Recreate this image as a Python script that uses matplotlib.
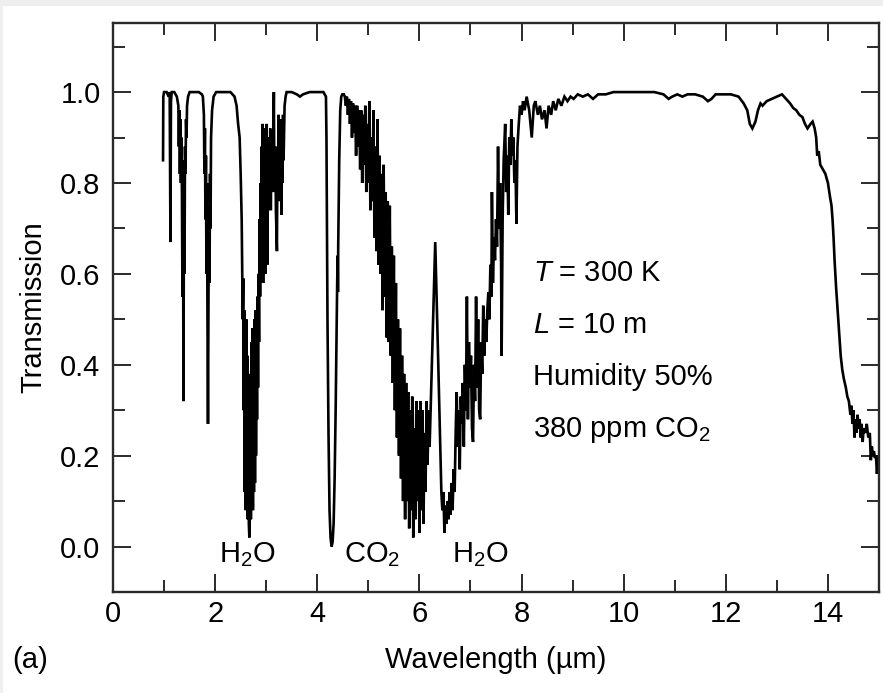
import numpy as np
import matplotlib
matplotlib.use('Agg')
import matplotlib.pyplot as plt
from matplotlib.patches import Rectangle
from matplotlib.ticker import MultipleLocator, FormatStrFormatter

plt.rcParams['font.family'] = ['Liberation Sans', 'DejaVu Sans']
plt.rcParams['mathtext.fontset'] = 'custom'
plt.rcParams['mathtext.rm'] = 'Liberation Sans'
plt.rcParams['mathtext.it'] = 'Liberation Sans:italic'

# transmission spectrum, (wavelength in um, transmission), one list per region
near_ir = [
    (0.98, 0.85), (0.985, 0.99), (1.00, 1.00), (1.05, 1.00), (1.09, 0.99), (1.11, 1.00),
    (1.125, 0.67), (1.135, 0.98), (1.15, 1.00), (1.20, 1.00), (1.25, 0.99), (1.28, 0.97),
    (1.29, 0.88), (1.30, 0.96), (1.31, 0.82), (1.32, 0.94), (1.33, 0.80), (1.34, 0.90),
    (1.35, 0.78), (1.36, 0.55), (1.37, 0.85), (1.38, 0.32), (1.39, 0.80), (1.40, 0.60),
    (1.41, 0.88), (1.42, 0.82), (1.43, 0.94), (1.44, 0.90), (1.45, 0.97), (1.47, 0.99),
    (1.50, 1.00), (1.58, 1.00), (1.68, 1.00), (1.74, 0.995), (1.76, 0.99), (1.78, 0.95),
    (1.79, 0.82), (1.80, 0.92), (1.81, 0.72), (1.82, 0.86), (1.83, 0.60), (1.84, 0.80),
    (1.85, 0.50), (1.86, 0.27), (1.87, 0.55), (1.88, 0.75), (1.89, 0.58), (1.90, 0.82),
    (1.91, 0.70), (1.92, 0.90), (1.94, 0.96), (1.97, 0.99), (2.02, 1.00), (2.15, 1.00),
    (2.30, 1.00), (2.38, 0.99),
]

h2o_band_27 = [
    (2.42, 0.97), (2.45, 0.93), (2.48, 0.90), (2.50, 0.82), (2.52, 0.72), (2.53, 0.62),
    (2.54, 0.50), (2.55, 0.59), (2.56, 0.30), (2.57, 0.52), (2.58, 0.12), (2.59, 0.45),
    (2.60, 0.08), (2.61, 0.50), (2.62, 0.10), (2.63, 0.42), (2.64, 0.06), (2.65, 0.38),
    (2.66, 0.05), (2.67, 0.02), (2.68, 0.07), (2.69, 0.35), (2.70, 0.06), (2.71, 0.45),
    (2.72, 0.10), (2.73, 0.48), (2.74, 0.08), (2.75, 0.40), (2.76, 0.12), (2.77, 0.50),
    (2.78, 0.14), (2.79, 0.52), (2.80, 0.20), (2.81, 0.45), (2.82, 0.28), (2.83, 0.55),
    (2.84, 0.35), (2.85, 0.60), (2.86, 0.45), (2.87, 0.72), (2.88, 0.55), (2.89, 0.80),
    (2.90, 0.60), (2.91, 0.88), (2.92, 0.62), (2.93, 0.93), (2.94, 0.58), (2.95, 0.90),
    (2.96, 0.65), (2.97, 0.92), (2.98, 0.60), (2.99, 0.88), (3.00, 0.70), (3.01, 0.93),
    (3.02, 0.62), (3.03, 0.90), (3.04, 0.74), (3.06, 0.89), (3.07, 0.76), (3.08, 0.92),
    (3.09, 0.74), (3.10, 0.86), (3.11, 0.78), (3.12, 0.90), (3.13, 0.80), (3.15, 1.00),
    (3.16, 0.78), (3.18, 0.88), (3.19, 0.74), (3.21, 0.65), (3.22, 0.86), (3.23, 0.78),
    (3.24, 0.95), (3.25, 0.80), (3.26, 0.92), (3.27, 0.76), (3.28, 0.94), (3.29, 0.82),
    (3.30, 0.73), (3.31, 0.90), (3.32, 0.80), (3.33, 0.95), (3.34, 0.85), (3.36, 0.97),
    (3.38, 0.99), (3.40, 1.00), (3.50, 1.00), (3.60, 0.995), (3.66, 0.99), (3.72, 0.995),
    (3.85, 1.00), (4.00, 1.00), (4.12, 1.00), (4.17, 0.99),
]

co2_band_43 = [
    (4.18, 0.90), (4.19, 0.70), (4.20, 0.50), (4.22, 0.25), (4.24, 0.08), (4.26, 0.02),
    (4.28, 0.00), (4.30, 0.01), (4.32, 0.05), (4.34, 0.15), (4.36, 0.30), (4.38, 0.48),
    (4.39, 0.58), (4.40, 0.64), (4.405, 0.56), (4.41, 0.66), (4.43, 0.85), (4.45, 0.96),
    (4.47, 0.99), (4.49, 0.995),
]

h2o_band_60 = [
    (4.52, 0.995), (4.54, 0.99), (4.56, 0.97), (4.58, 0.99), (4.60, 0.95), (4.62, 0.985),
    (4.64, 0.93), (4.66, 0.98), (4.68, 0.90), (4.70, 0.975), (4.72, 0.91), (4.74, 0.97),
    (4.76, 0.86), (4.78, 0.97), (4.80, 0.88), (4.82, 0.96), (4.84, 0.83), (4.86, 0.96),
    (4.88, 0.80), (4.90, 0.95), (4.92, 0.84), (4.94, 0.97), (4.96, 0.78), (4.98, 0.93),
    (5.00, 0.80), (5.02, 0.98), (5.04, 0.74), (5.06, 0.90), (5.08, 0.76), (5.10, 0.96),
    (5.12, 0.68), (5.14, 0.88), (5.16, 0.65), (5.18, 0.94), (5.20, 0.62), (5.22, 0.86),
    (5.24, 0.60), (5.26, 0.82), (5.28, 0.52), (5.30, 0.84), (5.32, 0.55), (5.34, 0.78),
    (5.36, 0.46), (5.38, 0.76), (5.40, 0.45), (5.42, 0.75), (5.44, 0.42), (5.46, 0.66),
    (5.48, 0.36), (5.50, 0.64), (5.52, 0.30), (5.54, 0.58), (5.56, 0.24), (5.58, 0.50),
    (5.60, 0.20), (5.62, 0.48), (5.64, 0.15), (5.66, 0.42), (5.68, 0.10), (5.70, 0.38),
    (5.72, 0.06), (5.74, 0.36), (5.76, 0.10), (5.78, 0.34), (5.80, 0.04), (5.82, 0.30),
    (5.84, 0.08), (5.86, 0.33), (5.88, 0.02), (5.90, 0.26), (5.92, 0.06), (5.94, 0.32),
    (5.96, 0.10), (5.98, 0.30), (6.00, 0.03), (6.02, 0.32), (6.04, 0.08), (6.06, 0.30),
    (6.08, 0.05), (6.10, 0.25), (6.12, 0.12), (6.14, 0.32), (6.16, 0.18), (6.18, 0.30),
    (6.20, 0.22), (6.31, 0.67),
    (6.37, 0.40), (6.43, 0.12), (6.45, 0.08), (6.47, 0.12), (6.49, 0.03), (6.51, 0.09),
    (6.53, 0.05), (6.55, 0.10), (6.57, 0.06), (6.59, 0.12), (6.61, 0.07), (6.63, 0.14),
    (6.65, 0.08), (6.67, 0.17), (6.69, 0.12), (6.71, 0.25), (6.73, 0.34), (6.75, 0.22),
    (6.77, 0.30), (6.79, 0.17), (6.81, 0.33), (6.83, 0.27), (6.85, 0.36), (6.87, 0.22),
    (6.89, 0.40), (6.91, 0.30), (6.93, 0.55), (6.95, 0.28), (6.97, 0.45), (6.99, 0.35),
    (7.01, 0.42), (7.03, 0.26), (7.05, 0.23), (7.07, 0.40), (7.09, 0.32), (7.11, 0.55),
    (7.13, 0.35), (7.15, 0.50), (7.17, 0.30), (7.19, 0.28), (7.21, 0.45), (7.23, 0.38),
    (7.25, 0.53), (7.27, 0.42), (7.29, 0.50), (7.31, 0.45), (7.33, 0.52), (7.35, 0.56),
    (7.37, 0.50), (7.39, 0.62), (7.41, 0.55), (7.42, 0.78), (7.44, 0.58), (7.46, 0.68),
    (7.48, 0.63), (7.50, 0.72), (7.52, 0.66), (7.54, 0.88), (7.56, 0.70), (7.58, 0.80),
    (7.60, 0.62), (7.61, 0.42), (7.63, 0.72), (7.65, 0.85), (7.68, 0.93), (7.70, 0.78),
    (7.72, 0.86), (7.74, 0.73), (7.76, 0.90), (7.78, 0.84), (7.80, 0.94), (7.82, 0.86),
    (7.84, 0.90), (7.86, 0.80), (7.88, 0.85), (7.90, 0.71), (7.92, 0.88), (7.94, 0.92),
    (7.97, 0.97), (8.00, 0.95), (8.03, 0.98), (8.06, 0.96),
]

ir_window = [
    (8.10, 0.99), (8.15, 0.96), (8.20, 0.90), (8.24, 0.97), (8.27, 0.98), (8.32, 0.95),
    (8.36, 0.97), (8.40, 0.94), (8.45, 0.96), (8.49, 0.92), (8.53, 0.97), (8.58, 0.95),
    (8.62, 0.98), (8.67, 0.96), (8.72, 0.985), (8.78, 0.97), (8.84, 0.99), (8.90, 0.98),
    (8.96, 0.99), (9.02, 0.985), (9.10, 0.995), (9.20, 0.99), (9.30, 0.995), (9.40, 0.985),
    (9.50, 0.995), (9.65, 0.995), (9.80, 1.00), (10.00, 1.00), (10.30, 1.00), (10.60, 1.00),
    (10.78, 0.995), (10.88, 0.985), (10.95, 0.99), (11.05, 0.995), (11.15, 0.99), (11.25, 0.995),
    (11.40, 0.995), (11.55, 0.99), (11.65, 0.98), (11.72, 0.985), (11.80, 0.995), (11.95, 0.995),
    (12.10, 0.995), (12.25, 0.99), (12.35, 0.975), (12.42, 0.96), (12.47, 0.93), (12.52, 0.92),
    (12.58, 0.935), (12.63, 0.96), (12.68, 0.975), (12.72, 0.97), (12.80, 0.98), (12.90, 0.985),
    (13.00, 0.99), (13.10, 0.995), (13.18, 0.985), (13.26, 0.975), (13.32, 0.965), (13.38, 0.96),
    (13.44, 0.95), (13.50, 0.945), (13.55, 0.93), (13.60, 0.92), (13.66, 0.93), (13.70, 0.935),
    (13.74, 0.92), (13.77, 0.90), (13.79, 0.86), (13.82, 0.87), (13.85, 0.84), (13.90, 0.83),
    (13.95, 0.82), (14.00, 0.80), (14.04, 0.77), (14.07, 0.75), (14.09, 0.72), (14.11, 0.68),
    (14.13, 0.63), (14.16, 0.57), (14.19, 0.52), (14.22, 0.47), (14.25, 0.42), (14.28, 0.39),
    (14.31, 0.37), (14.35, 0.35), (14.38, 0.33), (14.41, 0.32), (14.44, 0.29), (14.46, 0.31),
    (14.48, 0.27), (14.50, 0.30), (14.52, 0.24), (14.54, 0.28), (14.56, 0.25), (14.58, 0.29),
    (14.60, 0.26), (14.62, 0.28), (14.64, 0.24), (14.66, 0.27), (14.68, 0.23), (14.70, 0.26),
    (14.73, 0.25), (14.76, 0.27), (14.79, 0.24), (14.82, 0.25), (14.84, 0.19), (14.86, 0.22),
    (14.88, 0.20), (14.90, 0.21), (14.92, 0.195), (14.94, 0.20), (14.96, 0.16), (14.98, 0.20),
    (15.00, 0.19),
]

conditions = ['$T$ = 300 K', '$L$ = 10 m', 'Humidity 50%', '380 ppm CO$_2$']
band_names = ['H$_2$O', 'CO$_2$', 'H$_2$O']
band_centres = [2.64, 5.07, 7.19]

spectrum = np.array(near_ir + h2o_band_27 + co2_band_43 + h2o_band_60 + ir_window)
wavelength, transmission = spectrum[:, 0], spectrum[:, 1]

fig = plt.figure(figsize=(8.83, 6.93), dpi=100)
fig.patch.set_facecolor('#efefef')
fig.patches.append(Rectangle((3 / 883, 0), 1, 1 - 6 / 693, transform=fig.transFigure,
                             facecolor='white', edgecolor='none', zorder=-10))
ax = fig.add_axes([113 / 883, 1 - 592 / 693, 766 / 883, 569 / 693])
ax.set_zorder(1)

ax.plot(wavelength, transmission, color='black', lw=1.9, solid_joinstyle='miter')

ax.set_xlim(0, 15)
ax.set_ylim(-0.1, 1.152)
ax.xaxis.set_major_locator(MultipleLocator(2))
ax.xaxis.set_minor_locator(MultipleLocator(1))
ax.yaxis.set_major_locator(MultipleLocator(0.2))
ax.yaxis.set_minor_locator(MultipleLocator(0.1))
ax.yaxis.set_major_formatter(FormatStrFormatter('%.1f'))

edge = '#2a2a2a'
for s in ax.spines.values():
    s.set_linewidth(1.7)
    s.set_color(edge)
ax.tick_params(which='both', direction='in', top=True, right=True, width=1.4,
               color=edge, labelsize=21, labelcolor='black')
ax.tick_params(which='major', length=13.3)
ax.tick_params(which='minor', length=8.4)
ax.tick_params(axis='x', pad=6)
ax.tick_params(axis='y', pad=9)

ax.set_xlabel('Wavelength (\u00b5m)', fontsize=21, color='black')
ax.xaxis.set_label_coords(0.5, -0.1195)
ax.xaxis.label.set_verticalalignment('center')
ax.set_ylabel('Transmission', fontsize=21, color='black')
ax.yaxis.set_label_coords(-0.1044, 0.5)
ax.yaxis.label.set_verticalalignment('center')

for i, txt in enumerate(conditions):
    ax.text(8.22, 0.602 - i * 0.115, txt, fontsize=21, color='black',
            ha='left', va='center')

for x, txt in zip(band_centres, band_names):
    ax.text(x, -0.035, txt, fontsize=21, color='black', ha='center', va='baseline')

fig.text(12 / 883, 1 - 660 / 693, '(a)', fontsize=21, color='black',
         ha='left', va='center')

fig.savefig('out.png', dpi=100, facecolor=fig.get_facecolor())
